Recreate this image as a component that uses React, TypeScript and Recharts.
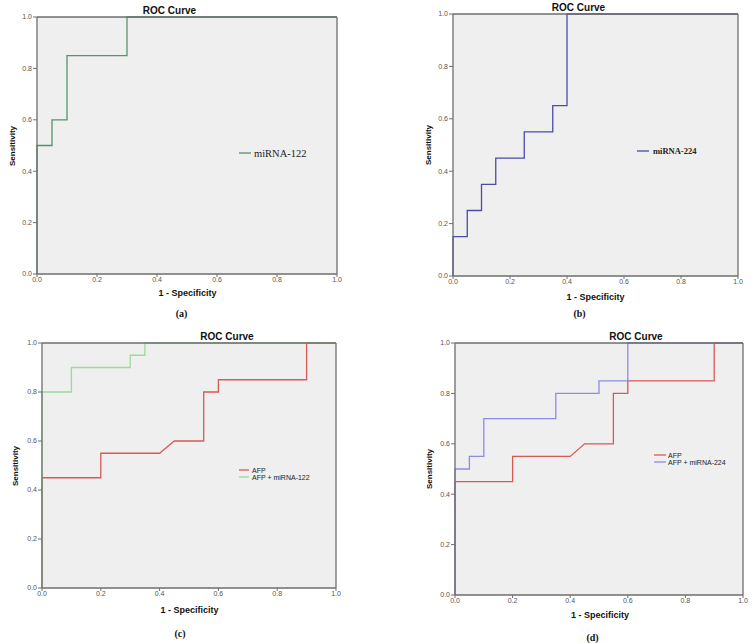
import React from 'react';
import { LineChart, Line, XAxis, YAxis, CartesianGrid, ReferenceLine } from 'recharts';

const axisTicks = [0, 0.2, 0.4, 0.6, 0.8, 1.0];

const miRNA122 = [
  { x: 0, y: 0 }, { x: 0, y: 0.5 }, { x: 0.05, y: 0.5 }, { x: 0.05, y: 0.6 },
  { x: 0.1, y: 0.6 }, { x: 0.1, y: 0.85 }, { x: 0.3, y: 0.85 }, { x: 0.3, y: 1 }, { x: 1, y: 1 },
];
const miRNA224 = [
  { x: 0, y: 0 }, { x: 0, y: 0.15 }, { x: 0.05, y: 0.15 }, { x: 0.05, y: 0.25 },
  { x: 0.1, y: 0.25 }, { x: 0.1, y: 0.35 }, { x: 0.15, y: 0.35 }, { x: 0.15, y: 0.45 },
  { x: 0.25, y: 0.45 }, { x: 0.25, y: 0.55 }, { x: 0.35, y: 0.55 }, { x: 0.35, y: 0.65 },
  { x: 0.4, y: 0.65 }, { x: 0.4, y: 1 }, { x: 1, y: 1 },
];
const afp = [
  { x: 0, y: 0 }, { x: 0, y: 0.45 }, { x: 0.2, y: 0.45 }, { x: 0.2, y: 0.55 },
  { x: 0.4, y: 0.55 }, { x: 0.45, y: 0.6 }, { x: 0.55, y: 0.6 }, { x: 0.55, y: 0.8 },
  { x: 0.6, y: 0.8 }, { x: 0.6, y: 0.85 }, { x: 0.9, y: 0.85 }, { x: 0.9, y: 1 }, { x: 1, y: 1 },
];
const afpMiRNA122 = [
  { x: 0, y: 0 }, { x: 0, y: 0.8 }, { x: 0.1, y: 0.8 }, { x: 0.1, y: 0.9 },
  { x: 0.3, y: 0.9 }, { x: 0.3, y: 0.95 }, { x: 0.35, y: 0.95 }, { x: 0.35, y: 1 }, { x: 1, y: 1 },
];
const afpMiRNA224 = [
  { x: 0, y: 0 }, { x: 0, y: 0.5 }, { x: 0.05, y: 0.5 }, { x: 0.05, y: 0.55 },
  { x: 0.1, y: 0.55 }, { x: 0.1, y: 0.7 }, { x: 0.35, y: 0.7 }, { x: 0.35, y: 0.8 },
  { x: 0.5, y: 0.8 }, { x: 0.5, y: 0.85 }, { x: 0.6, y: 0.85 }, { x: 0.6, y: 1 }, { x: 1, y: 1 },
];

const C_122 = '#52956a';
const C_224 = '#4b4ba8';
const C_AFP = '#d75a55';
const C_AFP122 = '#98dc98';
const C_AFP224 = '#8c8ce8';

const FRAME = '#6e6e6e';
const SANS = '"Liberation Sans", Arial, sans-serif';
const SERIF = '"Liberation Serif", "Times New Roman", serif';

type Pt = { x: number; y: number };
type Series = { name: string; data: Pt[]; color: string };

function RocPanel({ L, T, R, B, series }: { L: number; T: number; R: number; B: number; series: Series[] }) {
  const ml = 32, mt = 8, mr = 8, xh = 14;
  const w = R - L + ml + mr;
  const h = B - T + mt + xh;
  const tick = { fontSize: 7, fill: '#555', fontFamily: SANS };
  return (
    <div style={{ position: 'absolute', left: L - ml, top: T - mt }}>
      <LineChart width={w} height={h} margin={{ top: mt, right: mr, bottom: 0, left: 0 }}>
        <CartesianGrid fill="#efefef" horizontal={false} vertical={false} stroke="none" />
        <XAxis type="number" dataKey="x" domain={[0, 1]} ticks={axisTicks}
          tickFormatter={(v: number) => v.toFixed(1)} height={xh} tickSize={3} tickMargin={0}
          axisLine={{ stroke: FRAME, strokeWidth: 1.3 }} tickLine={{ stroke: FRAME }} tick={tick} interval={0} />
        <YAxis type="number" domain={[0, 1]} ticks={axisTicks}
          tickFormatter={(v: number) => v.toFixed(1)} width={ml} tickSize={4} tickMargin={1}
          axisLine={{ stroke: FRAME, strokeWidth: 1.3 }} tickLine={{ stroke: FRAME }} tick={tick} interval={0} />
        {series.map((s) => (
          <Line key={s.name} data={s.data} dataKey="y" type="linear" stroke={s.color}
            strokeWidth={1.3} dot={false} isAnimationActive={false} />
        ))}
        <ReferenceLine y={1} stroke={FRAME} strokeWidth={1.3} ifOverflow="visible" />
        <ReferenceLine x={1} stroke={FRAME} strokeWidth={1.3} ifOverflow="visible" />
      </LineChart>
    </div>
  );
}

function T({ x, y, children, size, weight = 'bold', family = SANS, rotate = false, anchor = 'middle', fill = '#111' }: any) {
  return (
    <text x={x} y={y} fontSize={size} fontWeight={weight} fontFamily={family} textAnchor={anchor}
      dominantBaseline="central" fill={fill} transform={rotate ? `rotate(-90 ${x} ${y})` : undefined}>
      {children}
    </text>
  );
}

function LegendItem({ x1, x2, y, color, label, size, weight, family, tx }: any) {
  return (
    <g>
      <line x1={x1} x2={x2} y1={y} y2={y} stroke={color} strokeWidth={1.3} />
      <T x={tx} y={y} size={size} weight={weight} family={family} anchor="start" fill="#222">{label}</T>
    </g>
  );
}

export default function App() {
  return (
    <div style={{ position: 'absolute', left: 0, top: 0, width: 752, height: 643, background: '#fff', fontFamily: SANS }}>
      <RocPanel L={37} T={17} R={337} B={274} series={[{ name: 'miRNA-122', data: miRNA122, color: C_122 }]} />
      <RocPanel L={453} T={14} R={738} B={276} series={[{ name: 'miRNA-224', data: miRNA224, color: C_224 }]} />
      <RocPanel L={42} T={343} R={336} B={588} series={[
        { name: 'AFP', data: afp, color: C_AFP },
        { name: 'AFP + miRNA-122', data: afpMiRNA122, color: C_AFP122 },
      ]} />
      <RocPanel L={455} T={343} R={743} B={595} series={[
        { name: 'AFP', data: afp, color: C_AFP },
        { name: 'AFP + miRNA-224', data: afpMiRNA224, color: C_AFP224 },
      ]} />
      <svg width={752} height={643} style={{ position: 'absolute', left: 0, top: 0, pointerEvents: 'none' }}>
        <T x={169.5} y={10} size={10}>ROC Curve</T>
        <T x={578.5} y={7} size={10}>ROC Curve</T>
        <T x={227} y={336} size={10}>ROC Curve</T>
        <T x={636} y={336} size={10}>ROC Curve</T>

        <T x={187.5} y={293} size={9}>1 - Specificity</T>
        <T x={595.5} y={297} size={9}>1 - Specificity</T>
        <T x={189.5} y={610} size={9}>1 - Specificity</T>
        <T x={600} y={615} size={9}>1 - Specificity</T>

        <T x={12} y={146} size={8} rotate>Sensitivity</T>
        <T x={428.5} y={145} size={8} rotate>Sensitivity</T>
        <T x={15} y={466} size={8} rotate>Sensitivity</T>
        <T x={429} y={469} size={8} rotate>Sensitivity</T>

        <T x={181.5} y={313} size={10} family={SERIF}>(a)</T>
        <T x={579.5} y={313} size={10} family={SERIF}>(b)</T>
        <T x={180} y={633} size={10} family={SERIF}>(c)</T>
        <T x={592.5} y={637} size={10} family={SERIF}>(d)</T>

        <LegendItem x1={239} x2={251} y={153} tx={254} color={C_122} label="miRNA-122" size={10.5} weight="normal" family={SERIF} />
        <LegendItem x1={637} x2={649} y={151} tx={653} color={C_224} label="miRNA-224" size={8.5} weight="bold" family={SERIF} />
        <LegendItem x1={239} x2={249} y={470} tx={252} color={C_AFP} label="AFP" size={7} weight="normal" family={SANS} />
        <LegendItem x1={239} x2={249} y={477} tx={252} color={C_AFP122} label="AFP + miRNA-122" size={7} weight="normal" family={SANS} />
        <LegendItem x1={654} x2={666} y={455} tx={668} color={C_AFP} label="AFP" size={7} weight="normal" family={SANS} />
        <LegendItem x1={654} x2={666} y={462} tx={668} color={C_AFP224} label="AFP + miRNA-224" size={7} weight="normal" family={SANS} />
      </svg>
    </div>
  );
}
